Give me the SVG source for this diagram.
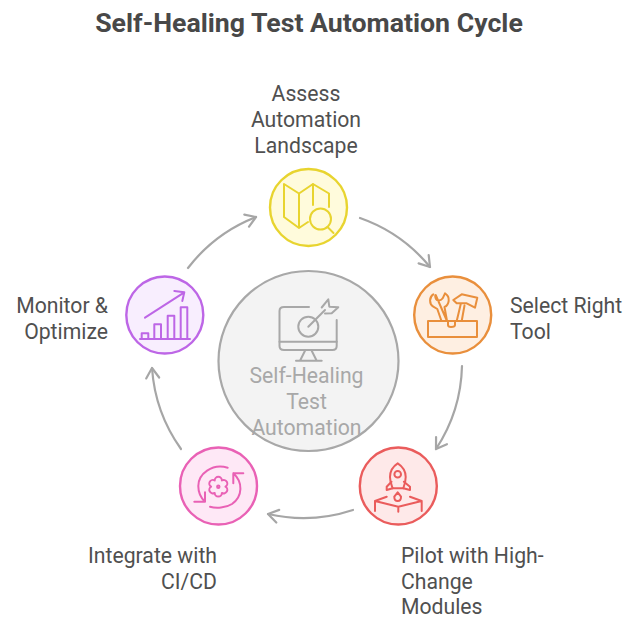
<svg xmlns="http://www.w3.org/2000/svg" width="631" height="626" viewBox="0 0 631 626">
<defs>
<style>
text{font-family:Roboto,"Liberation Sans",sans-serif;font-size:21.200px;fill:#505050}
.m{text-anchor:middle}
.s{text-anchor:start}
.e{text-anchor:end}
.title{font-size:26.700px;font-weight:700;fill:#484848;text-anchor:middle}
.g{fill:#a8a8a8;text-anchor:middle}
.ic{fill:none;stroke-width:2;stroke-linecap:round;stroke-linejoin:round}
.ring{stroke-width:2.400}
.con{fill:none;stroke:#a6a6a6;stroke-width:2.200;stroke-linecap:round;stroke-linejoin:round}
</style>
<marker id="arr" viewBox="-12 -8 14 16" markerWidth="14" markerHeight="16" refX="0" refY="0" markerUnits="userSpaceOnUse" orient="auto"><path d="M-10,-6.500 L0,0 L-10,6.500" fill="none" stroke="#a6a6a6" stroke-width="2.200" stroke-linecap="round" stroke-linejoin="round"/></marker>
</defs>
<rect width="631" height="626" fill="#fff"/>
<text class="title" x="309" y="32">Self-Healing Test Automation Cycle</text>
<g id="connectors">
<path class="con" marker-end="url(#arr)" d="M360,218 A158,158 0 0 1 430,267"/>
<path class="con" marker-end="url(#arr)" d="M462,366 A158,158 0 0 1 436,449"/>
<path class="con" marker-end="url(#arr)" d="M353,510 A158,158 0 0 1 268,514"/>
<path class="con" marker-end="url(#arr)" d="M181,449 A158,158 0 0 1 152,368"/>
<path class="con" marker-end="url(#arr)" d="M188,268 A158,158 0 0 1 256,217"/>
</g>
<g id="center">
<circle cx="308.500" cy="361" r="90" fill="#f3f3f3" stroke="#a8a8a8" stroke-width="2.200"/>
<g class="ic" stroke="#a8a8a8">
<path d="M309,307 H284 Q279.500,307 279.500,311 V346 Q279.500,350 284,350 H332.500 Q336.700,350 336.700,346 V320"/>
<path d="M279.500,341.700 H336.700 M305,350.700 L300,360.700 M311.700,350.700 L316.700,360.700 M296,360.700 H321.700"/>
<circle cx="308.300" cy="326.700" r="10"/>
<path d="M308.300,326.700 L325,310 M321.700,307.500 L328.300,299.300 L329.300,306.700 L338.300,307.300 L331.700,313.300 L325,313.500"/>
</g>
<text class="g" x="306.500" y="382.500" style="fill:#a8a8a8">Self-Healing</text>
<text class="g" x="306.500" y="408.500" style="fill:#a8a8a8">Test</text>
<text class="g" x="306.500" y="434.500" style="fill:#a8a8a8">Automation</text>
</g>
<g id="assess">
<circle class="ring" cx="308.500" cy="207.500" r="38.500" fill="#fffbdc" stroke="#e8d42f"/>
<g class="ic" stroke="#e8d42f">
<path d="M284,184 L299,193.500 V228 L284,217 Z M299,193.500 L313,184 L329,193.500 V207 M313,184 V205 M299,228 L308,222"/>
<circle cx="320.500" cy="219" r="10.500"/><path d="M327.500,227 L333.500,233"/>
</g>
<text class="m" x="306" y="100.500">Assess</text>
<text class="m" x="306" y="126.500">Automation</text>
<text class="m" x="306" y="152.500">Landscape</text>
</g>
<g id="select">
<circle class="ring" cx="452.700" cy="315" r="38.500" fill="#feefe2" stroke="#e98f3c"/>
<g class="ic" stroke="#e98f3c">
<path d="M428,321 H477 V337 H428 Z"/>
<path d="M433.300,294.300 C429,297 429,304 433.300,306.700 L437.300,309 L441.500,321 M447,321 L444.500,307 C449,305 451,297 445,293.300 L442.700,298.300 C441,301 437,301 436,299 C435,297 435,295 435.700,295 Z M448,321 V325 Q448,327 451,327 Q455,327 455,325 V321"/>
<path d="M456.700,321 L460.700,304.300 M461.700,321 L464.500,305.500 M453.300,300 L461.700,294.300 L477.300,297.700 L475,307.700 L466.700,303.300 L456.700,303.300 Z"/>
</g>
<text class="s" x="510" y="312.500">Select Right</text>
<text class="s" x="510" y="338.500">Tool</text>
</g>
<g id="pilot">
<circle class="ring" cx="398.300" cy="486" r="38.500" fill="#fee9e9" stroke="#ea5c5c"/>
<g class="ic" stroke="#ea5c5c">
<path d="M397.700,463.300 C392,467 390,472 390,477 C390,482 391.500,485 392.700,488.300 H403.300 C404.500,485 405.700,482 405.700,477 C405.700,472 403.500,467 397.700,463.300 Z"/>
<circle cx="397.700" cy="474.300" r="3.300"/>
<path d="M391.500,481.700 L386.700,486.700 L386.700,490 L392.700,488.300 M403.900,481.700 L410,486.700 L410,490 L403.300,488.300"/>
<path d="M397.700,492.300 L394.300,496.700 C394.300,499 395.500,501 397.700,501 C400,501 401,499 401,496.700 Z"/>
<path d="M386.700,496.700 L375,501 L398.300,506.700 L421.700,501 L410,496.700 M375,501 V511 M421.700,501 V511 M398.300,506.700 V511.700"/>
</g>
<text class="s" x="401" y="562.500">Pilot with High-</text>
<text class="s" x="401" y="588.500">Change</text>
<text class="s" x="401" y="613.500">Modules</text>
</g>
<g id="integrate">
<circle class="ring" cx="218.500" cy="486" r="38.500" fill="#fee8f6" stroke="#e961b5"/>
<g class="ic" stroke="#e961b5">
<path d="M227.700,467.700 C212,463 198.300,474 198.300,486 C198.300,492 201,498 205,501.700 M194.300,501.700 H205 V492.300"/>
<path d="M243.300,473.300 H233.300 V483.300 M233.300,473.300 C243,482 243,496 232,504 C226,508 216,508.500 210,506.700"/>
<path d="M221.900,480.460 A3.600,3.600 0 0 1 225.500,486.700 A3.600,3.600 0 0 1 221.900,492.940 A3.600,3.600 0 0 1 214.700,492.940 A3.600,3.600 0 0 1 211.100,486.700 A3.600,3.600 0 0 1 214.700,480.460 A3.600,3.600 0 0 1 221.900,480.460 Z"/>
<circle cx="218.300" cy="486.700" r="1.200"/>
</g>
<text class="e" x="217" y="562.500">Integrate with</text>
<text class="e" x="217" y="588.500">CI/CD</text>
</g>
<g id="monitor">
<circle class="ring" cx="164.800" cy="315" r="38.500" fill="#f8eefe" stroke="#bd66e6"/>
<g class="ic" stroke="#bd66e6">
<path d="M140,339 H190 M145,317.700 L184.300,292.300 M174.300,291 L184.300,292.300 L182.300,301"/>
<path d="M141.700,339 V333.300 H148.300 V339 M154.300,339 V324.300 H161 V339 M167.700,339 V315.700 H174.300 V339 M180.700,339 V307.300 H187.300 V339"/>
</g>
<text class="e" x="108" y="312.500">Monitor &amp;</text>
<text class="e" x="108" y="338.500">Optimize</text>
</g>
</svg>
